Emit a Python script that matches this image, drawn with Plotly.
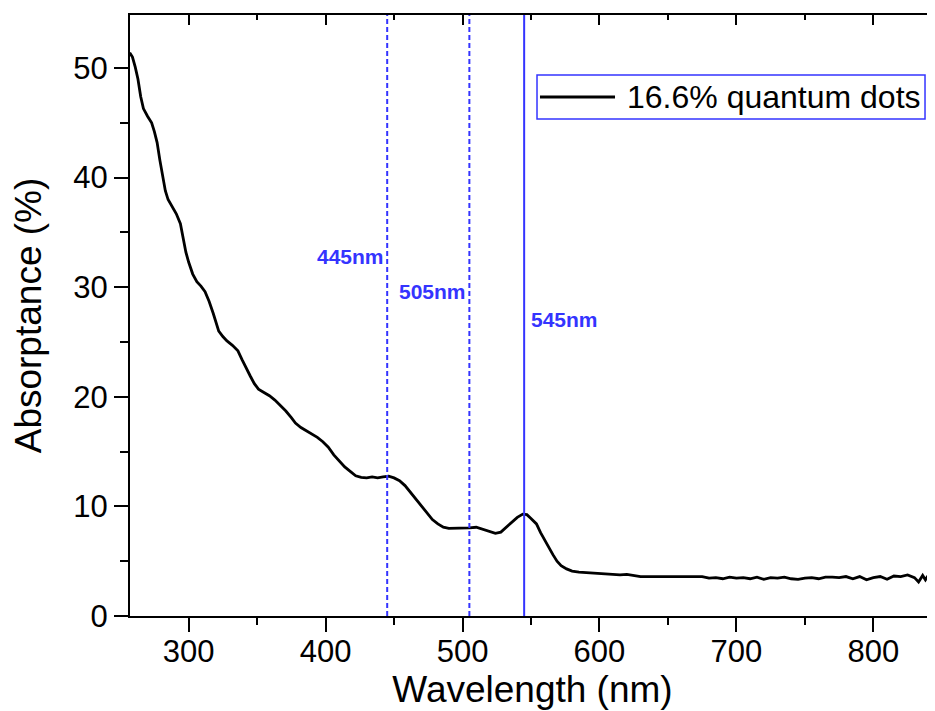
import plotly.graph_objects as go

wavelength = [257, 259, 261, 263, 265, 267, 270, 273, 275, 277, 279, 281, 283, 285, 288, 291, 294, 296, 298, 300,
              303, 306, 309, 312, 315, 318, 320, 322, 325, 328, 332, 336, 339, 342, 345, 348, 351, 355, 359, 363,
              367, 371, 375, 378, 382, 386, 390, 394, 398, 402, 406, 410, 414, 418, 422, 426, 430, 434, 438, 442,
              446, 450, 454, 458, 462, 466, 470, 474, 478, 482, 486, 490, 495, 500, 505, 510, 515, 520, 524, 528,
              532, 536, 540, 544, 547, 550, 554, 557, 560, 563, 566, 569, 572, 576, 580, 585, 590, 595,
              600, 605, 610, 615, 620, 625, 630, 635, 640, 645, 650, 655, 660, 665, 670, 675, 680, 685, 690, 695,
              700, 705, 710, 715, 720, 725, 730, 735, 740, 745, 750, 755, 760, 765, 770, 775, 780, 785, 790, 795,
              800, 805, 810, 815, 820, 825, 830, 833, 836, 838, 841, 845]
absorptance = [51.4, 51.0, 50.1, 49.0, 47.4, 46.3, 45.6, 45.0, 44.2, 43.2, 41.6, 40.1, 38.8, 38.0, 37.3, 36.7, 35.8, 34.5, 33.2, 32.3,
               31.2, 30.5, 30.1, 29.6, 28.7, 27.6, 26.9, 26.0, 25.5, 25.1, 24.7, 24.2, 23.4, 22.6, 21.9, 21.2, 20.7, 20.4, 20.1, 19.7,
               19.2, 18.7, 18.1, 17.6, 17.2, 16.9, 16.6, 16.3, 15.9, 15.4, 14.7, 14.1, 13.6, 13.2, 12.8, 12.65, 12.6, 12.7, 12.6, 12.7,
               12.75, 12.6, 12.35, 11.9, 11.3, 10.6, 10.0, 9.4, 8.8, 8.4, 8.1, 8.0, 8.0, 8.0, 8.05, 8.1, 7.9, 7.7, 7.55, 7.65,
               8.1, 8.6, 9.0, 9.3, 9.25, 8.9, 8.4, 7.6, 6.9, 6.2, 5.6, 5.0, 4.6, 4.3, 4.1, 4.0, 3.95, 3.9,
               3.9, 3.85, 3.8, 3.75, 3.8, 3.7, 3.6, 3.6, 3.6, 3.6, 3.55, 3.55, 3.55, 3.55, 3.55, 3.6, 3.45, 3.5, 3.4, 3.55,
               3.45, 3.5, 3.4, 3.55, 3.35, 3.5, 3.45, 3.55, 3.4, 3.35, 3.45, 3.5, 3.4, 3.55, 3.55, 3.5, 3.6, 3.4, 3.6, 3.3,
               3.5, 3.6, 3.35, 3.65, 3.6, 3.75, 3.5, 3.1, 3.7, 3.3, 3.9, 3.8]

series_name = "16.6% quantum dots"
marker_nm = [445, 505, 545]
marker_labels = ["445nm", "505nm", "545nm"]
marker_dash = ["5px,3px", "5px,3px", "solid"]

BLUE = "#3434ff"
FONT = "Liberation Sans, Arial, sans-serif"
XR = [257.2, 845]
YR = [0, 54.84]

fig = go.Figure()
fig.add_trace(go.Scatter(x=wavelength, y=absorptance, mode="lines",
                         line=dict(color="black", width=2.8),
                         name=series_name, showlegend=False))
# invisible trace to draw the top axis
fig.add_trace(go.Scatter(x=XR, y=[None, None], xaxis="x2", mode="lines",
                         showlegend=False, hoverinfo="skip"))

for nm, dash in zip(marker_nm, marker_dash):
    fig.add_shape(type="line", xref="x", yref="paper", x0=nm, x1=nm, y0=0, y1=1,
                  line=dict(color=BLUE, width=2, dash=dash))

label_y = [32.8, 29.65, 27.1]
label_anchor = ["right", "right", "left"]
label_shift = [-1, -1, 5]
for nm, txt, yy, anc, sh in zip(marker_nm, marker_labels, label_y, label_anchor, label_shift):
    fig.add_annotation(x=nm, y=yy, text=txt, showarrow=False, xanchor=anc, xshift=sh,
                       font=dict(family=FONT, size=21, color=BLUE, weight="bold"))

# legend box (drawn by hand to get the long line sample)
fig.add_shape(type="rect", xref="paper", yref="paper", x0=0.5056, x1=0.9876, y0=0.827, y1=0.9002,
              line=dict(color=BLUE, width=1.5), fillcolor="white", layer="above")
fig.add_shape(type="line", xref="paper", yref="paper", x0=0.5093, x1=0.6025, y0=0.8636, y1=0.8636,
              line=dict(color="black", width=3), layer="above")
fig.add_annotation(xref="paper", yref="paper", x=0.6149, y=0.8636, xanchor="left", yanchor="middle",
                   text=series_name, showarrow=False,
                   font=dict(family=FONT, size=32, color="black"))

# page body has an 8px margin: figure is 927x703 placed at (8, 8)
fig.update_layout(
    width=927, height=703,
    margin=dict(l=122, r=0, t=7, b=95),
    paper_bgcolor="white", plot_bgcolor="white",
    font=dict(family=FONT, color="black"),
    xaxis=dict(range=XR, showgrid=False, zeroline=False, automargin=False,
               showline=True, linecolor="black", linewidth=2,
               ticks="outside", ticklen=14, tickwidth=2, tickcolor="black",
               tick0=0, dtick=100, ticklabelstandoff=-7,
               minor=dict(ticks="outside", ticklen=7, tickwidth=2, tickcolor="black", dtick=50),
               tickfont=dict(family=FONT, size=31, color="black"),
               title=dict(text="Wavelength (nm)", font=dict(family=FONT, size=37, color="black"), standoff=4)),
    xaxis2=dict(range=XR, overlaying="x", side="top", showgrid=False, zeroline=False,
                showline=True, linecolor="black", linewidth=2,
                ticks="inside", ticklen=10, tickwidth=2, tickcolor="black",
                tick0=0, dtick=100, showticklabels=False,
                minor=dict(ticks="inside", ticklen=5, tickwidth=2, tickcolor="black", dtick=50)),
    yaxis=dict(range=YR, showgrid=False, zeroline=False, automargin=False,
               showline=True, linecolor="black", linewidth=2,
               ticks="outside", ticklen=14, tickwidth=2, tickcolor="black",
               tick0=0, dtick=10,
               minor=dict(ticks="outside", ticklen=8, tickwidth=2, tickcolor="black", dtick=5),
               tickfont=dict(family=FONT, size=31, color="black"),
               title=dict(text="Absorptance (%)", font=dict(family=FONT, size=37, color="black"), standoff=20)),
)

fig.write_html("out.html")
